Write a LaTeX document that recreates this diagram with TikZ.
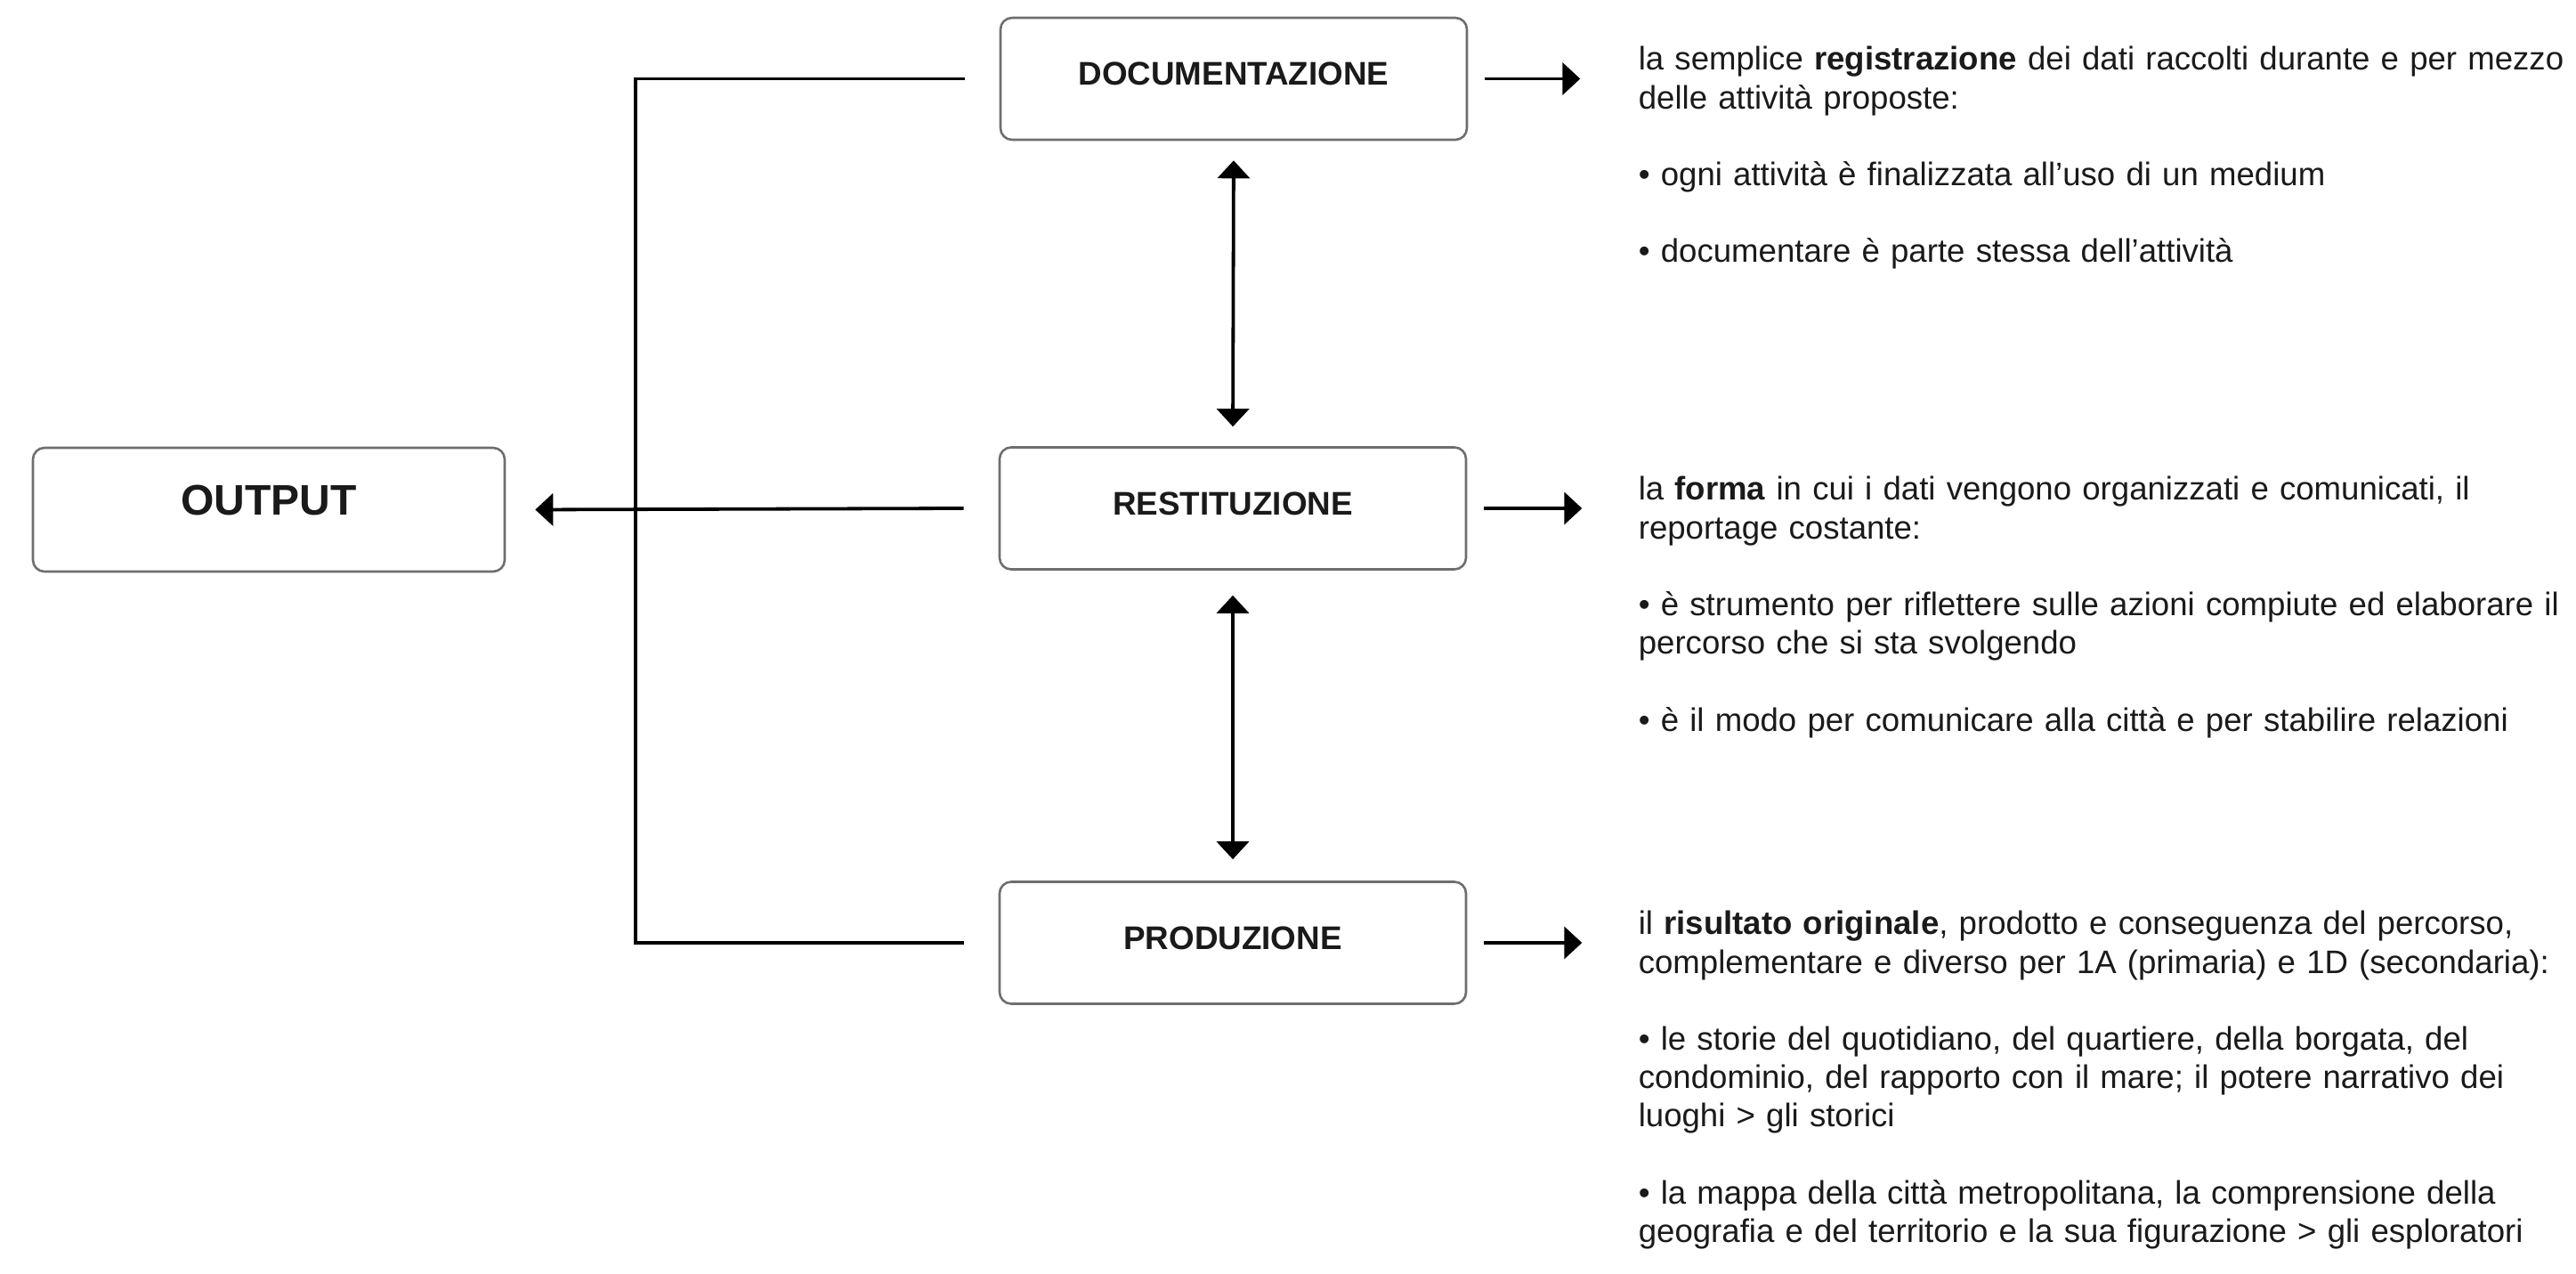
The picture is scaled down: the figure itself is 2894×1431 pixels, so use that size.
\documentclass[tikz,border=0pt]{standalone}
\usepackage{fontspec}
\setmainfont{Liberation Sans}
\usetikzlibrary{arrows.meta,calc}
\definecolor{boxgray}{HTML}{6E6E6E}
\definecolor{txt}{HTML}{1A1A1A}
\begin{document}
\begin{tikzpicture}[x=0.25pt,y=-0.25pt,
  box/.style={draw=boxgray, line width=0.65pt, rounded corners=3.25pt, minimum width=131pt, minimum height=34.25pt, inner sep=0pt},
  lbl/.style={font=\fontsize{9.2pt}{11pt}\selectfont\bfseries, text=txt, inner sep=0pt, anchor=base},
  conn/.style={line width=0.95pt, black},
  tip/.style={-{Triangle[length=5pt,width=9pt]}},
  dtip/.style={{Triangle[length=5pt,width=9pt]}-{Triangle[length=5pt,width=9pt]}},
  body/.style={font=\fontsize{9.15pt}{10.8pt}\selectfont, text=txt, text width=275pt, align=left, inner sep=0pt, anchor=base west}]
\useasboundingbox (0,0) rectangle (2894,1431);
\fill[white] (0,0) rectangle (2894,1431);

% boxes
\node[box] (doc)  at (1386,88.5) {};
\node[box] (rest) at (1385,571) {};
\node[box] (prod) at (1385,1059) {};
\node[box, minimum width=132.5pt, minimum height=34.75pt] (out) at (302,572.5) {};

% labels
\node[lbl] (docL)  at ($(doc.center)+(0,7.5)$) {DOCUMENTAZIONE};
\node[lbl] (restL) at ($(rest.center)+(0,7.5)$) {RESTITUZIONE};
\node[lbl] (prodL) at ($(prod.center)+(0,8)$) {PRODUZIONE};
\node[lbl, font=\fontsize{12pt}{14pt}\selectfont\bfseries] (outL) at ($(out.center)+(0,6.5)$) {OUTPUT};

% left bracket
\coordinate (bx) at (714,0);
\draw[conn] ([xshift=-9.75pt]doc.west) -| (bx |- prod.west) -- ([xshift=-9.75pt]prod.west);
\draw[conn, tip] ([xshift=-9.75pt]rest.west) -- ([xshift=8.25pt]out.east);

% vertical double arrows
\draw[conn, dtip, shorten <=5.5pt, shorten >=5.5pt] (doc.south) -- (rest.north);
\draw[conn, dtip, shorten <=7pt, shorten >=6pt] (rest.south) -- (prod.north);

% right arrows
\coordinate (dA) at ($(doc.east)+(126,0)$);
\coordinate (rA) at ($(rest.east)+(129,0)$);
\coordinate (pA) at ($(prod.east)+(129,0)$);
\draw[conn, tip, shorten <=4.75pt] (doc.east) -- (dA);
\draw[conn, tip, shorten <=4.75pt] (rest.east) -- (rA);
\draw[conn, tip, shorten <=4.75pt] (prod.east) -- (pA);

% text blocks
\node[body] (t1) at (1840,79) {la semplice \textbf{registrazione} dei dati raccolti durante e per mezzo\\
delle attività proposte:\\[10.8pt]
• ogni attività è finalizzata all’uso di un medium\\[10.8pt]
• documentare è parte stessa dell’attività};

\node[body] (t2) at (1840,562) {la \textbf{forma} in cui i dati vengono organizzati e comunicati, il\\
reportage costante:\\[10.8pt]
• è strumento per riflettere sulle azioni compiute ed elaborare il\\
percorso che si sta svolgendo\\[10.8pt]
• è il modo per comunicare alla città e per stabilire relazioni};

\node[body] (t3) at (1840,1050) {il \textbf{risultato originale}, prodotto e conseguenza del percorso,\\
complementare e diverso per 1A (primaria) e 1D (secondaria):\\[10.8pt]
• le storie del quotidiano, del quartiere, della borgata, del\\
condominio, del rapporto con il mare; il potere narrativo dei\\
luoghi > gli storici\\[10.8pt]
• la mappa della città metropolitana, la comprensione della\\
geografia e del territorio e la sua figurazione > gli esploratori};
\end{tikzpicture}
\end{document}
